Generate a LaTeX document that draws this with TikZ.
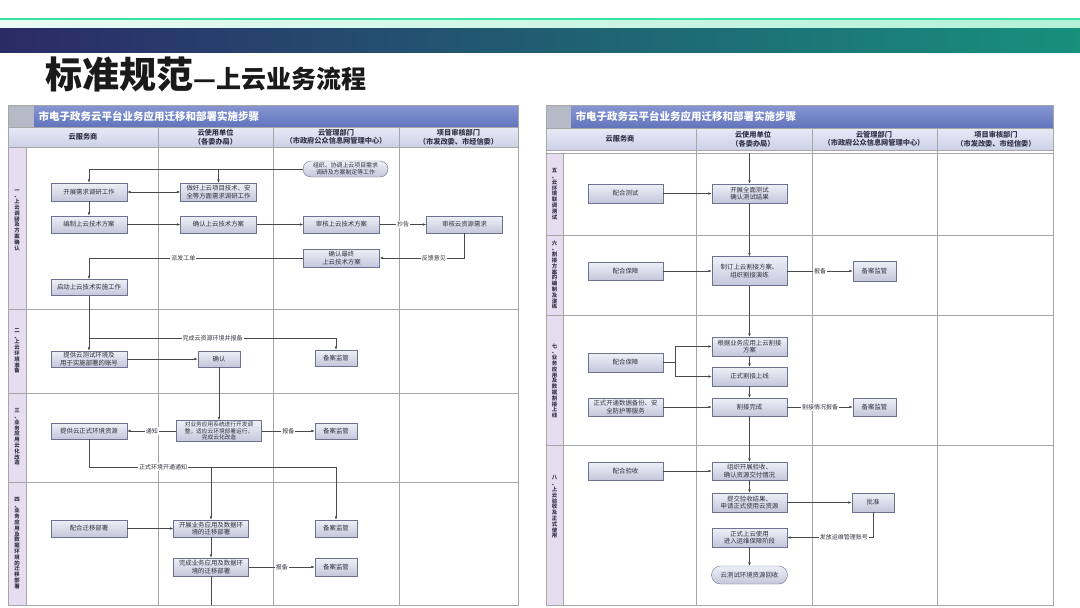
\documentclass[tikz,border=0pt]{standalone}
\usepackage{fontspec}
\newfontfamily\cjk{Noto Sans CJK SC}
\usetikzlibrary{arrows.meta}
\definecolor{mint}{HTML}{35E3A3}
\definecolor{mintpale}{HTML}{EAFBF5}
\definecolor{mintr}{HTML}{B2F1D8}
\definecolor{bandl}{HTML}{2B2A68}
\definecolor{bandr}{HTML}{17907C}
\definecolor{titlec}{HTML}{1A1A1A}
\definecolor{barl}{HTML}{8797D4}
\definecolor{bard}{HTML}{6174BC}
\definecolor{greysq}{HTML}{B5BAC6}
\definecolor{headl}{HTML}{E8EAF6}
\definecolor{headd}{HTML}{CDD1E8}
\definecolor{headtext}{HTML}{34344A}
\definecolor{phasec}{HTML}{E7DDF1}
\definecolor{gridc}{HTML}{A6A6A6}
\definecolor{boxtop}{HTML}{EEF0F7}
\definecolor{boxbot}{HTML}{C4C7DB}
\definecolor{boxline}{HTML}{6E7290}
\definecolor{boxtext}{HTML}{33333F}
\definecolor{linec}{HTML}{4A4A4A}

\begin{document}
\begin{tikzpicture}[x=1pt,y=-1pt,>={Latex[length=3.5pt,width=2.6pt]},
    box/.style={draw=boxline,top color=boxtop,bottom color=boxbot,minimum width=76,minimum height=17,inner sep=1pt,align=center,text=boxtext,font=\cjk\fontsize{6.4}{7.5}\selectfont},
    small/.style={box,minimum width=42},
    term/.style={box,rounded corners=8},
    lab/.style={fill=white,inner sep=1pt,text=boxtext,font=\cjk\fontsize{6}{7}\selectfont},
    conn/.style={draw=linec,line width=0.5pt},
    grid/.style={draw=gridc,line width=0.9pt},
    phase/.style={align=center,text=headtext,font=\cjk\bfseries\fontsize{5.4}{5.8}\selectfont},
    head/.style={align=center,text=headtext,font=\cjk\bfseries\fontsize{7.2}{8.5}\selectfont},
    bar/.style={anchor=west,text=white,font=\cjk\bfseries\fontsize{10.5}{12}\selectfont}]
    \useasboundingbox (0,0) rectangle (1080,608);
    \fill[white] (0,0) rectangle (1080,608);
    % top bands and title
    \fill[mint] (0,17.5) rectangle (1080,20.5);
    \fill[left color=mintpale,right color=mintr] (0,20.5) rectangle (1080,28);
    \fill[left color=bandl,right color=bandr] (0,28) rectangle (1080,52);
    \node[anchor=base west,text=titlec,font=\cjk\bfseries,inner sep=0] (tt) at (45,88) {{\fontsize{37}{40}\selectfont 标准规范}{\fontsize{25}{30}\selectfont —上云业务流程}};

    % left table
    \fill[top color=barl,bottom color=bard] (8,105) rectangle (518,127);
    \fill[greysq] (8,105) rectangle (34,127);
    \node[bar] (tl) at (35,116) {市电子政务云平台业务应用迁移和部署实施步骤};
    \fill[top color=headl,bottom color=headd] (8,127) rectangle (518,147);
    \fill[phasec] (8,147) rectangle (26,605);
    \foreach \y in {127,147,309,393,482} \draw[grid] (8,\y) -- (518,\y);
    \foreach \x in {158,273,399} \draw[grid] (\x,127) -- (\x,605);
    \draw[grid] (26,147) -- (26,605);
    \draw[grid] (8,105) rectangle (518,605);
    \node[head] (h1) at (83,137) {云服务商};
    \node[head] (h2) at (215.5,137) {云使用单位\\（各委办局）};
    \node[head] (h3) at (336,137) {云管理部门\\（市政府公众信息网管理中心）};
    \node[head] (h4) at (458.5,137) {项目审核部门\\（市发改委、市经信委）};
    \node[phase] (p1) at (17,220) {一\\、\\上\\云\\调\\研\\及\\方\\案\\确\\认};
    \node[phase] (p2) at (17,351) {二\\、\\上\\云\\环\\境\\准\\备};
    \node[phase] (p3) at (17,437) {三\\、\\业\\务\\应\\用\\云\\化\\改\\造};
    \node[phase] (p4) at (17,543) {四\\、\\业\\务\\应\\用\\及\\数\\据\\环\\境\\的\\迁\\移\\部\\署};

    % phase one
    \node[term,minimum width=85,minimum height=16,font=\cjk\fontsize{5.9}{7}\selectfont] (org) at (345.5,169) {组织、协调上云项目需求\\调研及方案制定等工作};
    \node[box,minimum height=18] (kz) at (89,192) {开展需求调研工作};
    \node[box,minimum height=18] (zh) at (218.5,192) {做好上云项目技术、安\\全等方面需求调研工作};
    \node[box] (bz) at (89,224.5) {编制上云技术方案};
    \node[box] (qr) at (218.5,224.5) {确认上云技术方案};
    \node[box] (sh) at (341.5,224.5) {审核上云技术方案};
    \node[box] (shzy) at (464.5,224.5) {审核云资源需求};
    \node[box,minimum height=18] (zz) at (341.5,258) {确认最终\\上云技术方案};
    \node[box,minimum height=16] (qd) at (89,287.5) {启动上云技术实施工作};
    \draw[conn,->] (org.west) -| (kz.north);
    \draw[conn,->] (zh.north |- org.west) -- (zh.north);
    \draw[conn,<->] (kz) -- (zh);
    \draw[conn,->] (kz) -- (bz);
    \draw[conn,->] (bz) -- (qr);
    \draw[conn,->] (qr) -- (sh);
    \draw[conn,->] (sh) -- node[lab] {抄告} (shzy);
    \draw[conn,->] (shzy.south) |- node[lab,pos=0.68] {反馈意见} (zz.east);
    \draw[conn,->] (zz.west) -| node[lab,pos=0.28] {派发工单} (qd.north);

    % phase two
    \node[box,minimum height=16] (tg) at (89,359) {提供云测试环境及\\用于实施部署的账号};
    \node[small,minimum height=16] (qrr) at (219,359) {确认};
    \node[small,minimum height=16] (ba1) at (336,358) {备案监管};
    \coordinate (j1) at (89,338);
    \draw[conn,->] (qd) -- (tg);
    \draw[conn,->] (j1) -| node[lab,pos=0.25] {完成云资源环境并报备} (ba1.north);
    \draw[conn,->] (tg) -- (qrr);

    % phase three
    \node[box,minimum width=85,minimum height=21,font=\cjk\fontsize{5.7}{6.6}\selectfont] (gz) at (219,431) {对业务应用系统进行开发调\\整，适应云环境部署运行，\\完成云化改造};
    \node[box,minimum height=16] (zs) at (89,431) {提供云正式环境资源};
    \node[small,minimum height=16] (ba2) at (336,431) {备案监管};
    \draw[conn,->] (qrr) -- (gz);
    \draw[conn,->] (gz) -- node[lab] {通知} (zs);
    \draw[conn,->] (gz) -- node[lab] {报备} (ba2);

    % phase four
    \node[box] (ph) at (89,528.5) {配合迁移部署};
    \node[box,minimum width=75] (ky) at (211,528.5) {开展业务应用及数据环\\境的迁移部署};
    \node[small] (ba3) at (336,528.5) {备案监管};
    \node[box,minimum width=75,minimum height=18] (wc) at (211,567) {完成业务应用及数据环\\境的迁移部署};
    \node[small,minimum height=18] (ba4) at (336,567) {备案监管};
    \coordinate (j2) at (336,467);
    \coordinate (e1) at (211,605);
    \draw[conn] (zs.south) |- node[lab,pos=0.65] {正式环境开通通知} (j2);
    \draw[conn,->] (j2) -- (ba3.north);
    \draw[conn,->] (ky.north |- j2) -- (ky.north);
    \draw[conn,->] (ph) -- (ky);
    \draw[conn,->] (ky) -- (wc);
    \draw[conn,->] (wc) -- node[lab] {报备} (ba4);
    \draw[conn] (wc.south) -- (e1);

    % right table
    \fill[top color=barl,bottom color=bard] (546,105) rectangle (1053,128);
    \fill[greysq] (546,105) rectangle (571,128);
    \node[bar] (tr) at (572,116.5) {市电子政务云平台业务应用迁移和部署实施步骤};
    \fill[top color=headl,bottom color=headd] (546,128) rectangle (1053,150);
    \fill[phasec] (546,153) rectangle (563,605);
    \foreach \y in {128,150,153,235,315,445} \draw[grid] (546,\y) -- (1053,\y);
    \foreach \x in {696,812,937} \draw[grid] (\x,128) -- (\x,605);
    \draw[grid] (563,153) -- (563,605);
    \draw[grid] (546,105) rectangle (1053,605);
    \node[head] (h5) at (620,139) {云服务商};
    \node[head] (h6) at (753,139) {云使用单位\\（各委办局）};
    \node[head] (h7) at (874,139) {云管理部门\\（市政府公众信息网管理中心）};
    \node[head] (h8) at (996,139) {项目审核部门\\（市发改委、市经信委）};
    \node[phase] (p5) at (554.5,194) {五\\、\\云\\环\\境\\联\\调\\测\\试};
    \node[phase] (p6) at (554.5,275) {六\\、\\割\\接\\方\\案\\的\\编\\制\\及\\演\\练};
    \node[phase] (p7) at (554.5,381) {七\\、\\业\\务\\应\\用\\及\\数\\据\\割\\接\\上\\线};
    \node[phase] (p8) at (554.5,507) {八\\、\\上\\云\\验\\收\\及\\正\\式\\使\\用};

    % phase five
    \node[box,minimum width=75,minimum height=19] (phcs) at (625.5,193.5) {配合测试};
    \node[box,minimum width=75,minimum height=19] (cs) at (749.5,193.5) {开展全面测试\\确认测试结果};
    \coordinate (t5) at (749.5,153);
    \draw[conn,->] (t5) -- (cs.north);
    \draw[conn,->] (phcs) -- (cs);

    % phase six
    \node[box,minimum width=75,minimum height=18] (bz6) at (625.5,271) {配合保障};
    \node[box,minimum width=75,minimum height=29] (zd) at (749.5,271) {制订上云割接方案、\\组织割接演练};
    \node[small,minimum width=43,minimum height=20] (ba5) at (874.5,271) {备案监管};
    \draw[conn,->] (cs) -- (zd);
    \draw[conn,->] (bz6) -- (zd);
    \draw[conn,->] (zd) -- node[lab] {报备} (ba5);

    % phase seven
    \node[box,minimum width=75,minimum height=19] (bz7) at (625.5,362.5) {配合保障};
    \node[box,minimum width=75,minimum height=19] (gj) at (749.5,346.5) {根据业务应用上云割接\\方案};
    \node[box,minimum width=75,minimum height=19] (sx) at (749.5,376.5) {正式割接上线};
    \node[box,minimum width=75,minimum height=18] (kt) at (625.5,407) {正式开通数据备份、安\\全防护等服务};
    \node[box,minimum width=75,minimum height=18] (wcg) at (749.5,407) {割接完成};
    \node[small,minimum width=43,minimum height=18] (ba6) at (874.5,407) {备案监管};
    \coordinate (j7) at (675,362.5);
    \draw[conn,->] (zd) -- (gj);
    \draw[conn] (bz7.east) -- (j7);
    \draw[conn,->] (j7) |- (gj.west);
    \draw[conn,->] (j7) |- (sx.west);
    \draw[conn,->] (gj) -- (sx);
    \draw[conn,->] (sx) -- (wcg);
    \draw[conn,->] (kt) -- (wcg);
    \draw[conn,->] (wcg) -- node[lab] {割接情况报备} (ba6);

    % phase eight
    \node[box,minimum width=75,minimum height=18] (phys) at (625.5,471) {配合验收};
    \node[box,minimum width=75,minimum height=18] (ys) at (749.5,471) {组织开展验收、\\确认资源交付情况};
    \node[box,minimum width=75,minimum height=19] (tj) at (749.5,502.5) {提交验收结果、\\申请正式使用云资源};
    \node[small,minimum height=19] (pz) at (873,502.5) {批准};
    \node[box,minimum width=75,minimum height=19] (sy) at (749.5,537.5) {正式上云使用\\进入运维保障阶段};
    \node[term,minimum height=18,rounded corners=9] (hs) at (749.5,575) {云测试环境资源回收};
    \draw[conn,->] (wcg) -- (ys);
    \draw[conn,->] (phys) -- (ys);
    \draw[conn,->] (ys) -- (tj);
    \draw[conn,->] (tj) -- (pz);
    \draw[conn,->] (pz.south) |- node[lab,pos=0.67] {发放运维管理账号} (sy.east);
    \draw[conn,->] (sy) -- (hs);
\end{tikzpicture}
\end{document}
